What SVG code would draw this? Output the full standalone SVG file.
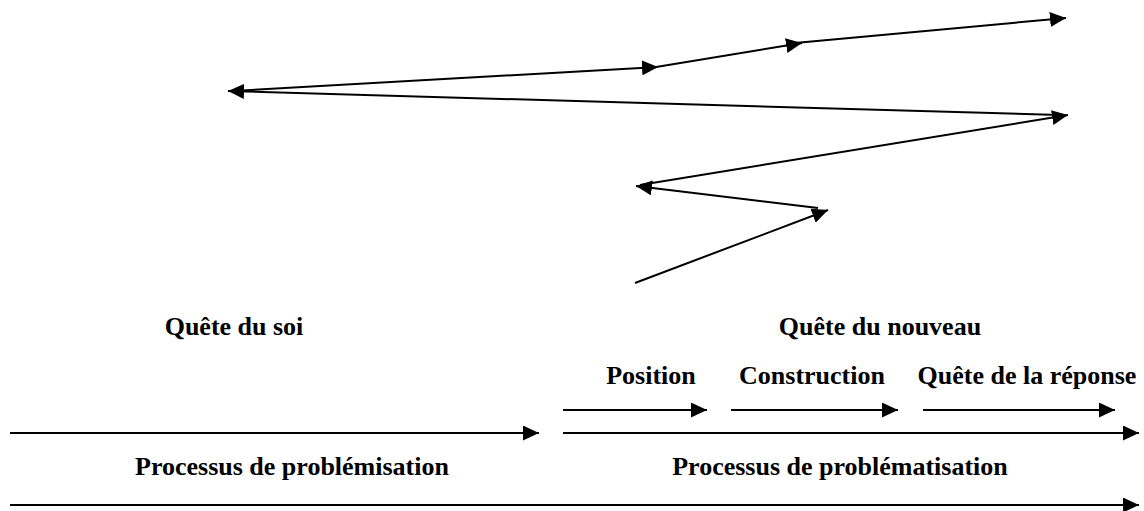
<svg xmlns="http://www.w3.org/2000/svg" width="1144" height="511" viewBox="0 0 1144 511">
<style>
.ln{stroke:#000;stroke-width:2;fill:none}
.ar{marker-end:url(#ah)}
.lb{font-family:"Liberation Serif","Times New Roman",serif;font-weight:bold;font-size:26px;fill:#000;text-anchor:middle}
</style>
<defs>
<marker id="ah" markerUnits="userSpaceOnUse" markerWidth="17" markerHeight="15" refX="16" refY="7.5" orient="auto" viewBox="0 0 17 15">
<path d="M0,0 L16,7.5 L0,15 z" fill="#000"/>
</marker>
</defs>
<rect width="1144" height="511" fill="#fff"/>
<g id="connectors">
<line class="ln ar" x1="635" y1="283" x2="828" y2="210"/>
<line class="ln ar" x1="818" y1="208" x2="636" y2="186"/>
<line class="ln ar" x1="640" y1="185" x2="1068" y2="115"/>
<line class="ln ar" x1="1060" y1="115" x2="228" y2="91"/>
<line class="ln ar" x1="232" y1="91" x2="658" y2="67"/>
<line class="ln ar" x1="650" y1="68" x2="802" y2="43"/>
<line class="ln ar" x1="795" y1="43" x2="1066" y2="18"/>
<line class="ln ar" x1="563" y1="410" x2="707" y2="410"/>
<line class="ln ar" x1="731" y1="410" x2="898" y2="410"/>
<line class="ln ar" x1="923" y1="410" x2="1115" y2="410"/>
<line class="ln ar" x1="10" y1="433" x2="539" y2="433"/>
<line class="ln ar" x1="563" y1="433" x2="1139" y2="433"/>
<line class="ln ar" x1="10" y1="505" x2="1139" y2="505"/>
</g>
<g id="n-quete-soi"><text class="lb" x="234" y="335">Quête du soi</text></g>
<g id="n-quete-nouveau"><text class="lb" x="880" y="335">Quête du nouveau</text></g>
<g id="n-position"><text class="lb" x="651" y="384">Position</text></g>
<g id="n-construction"><text class="lb" x="812" y="384">Construction</text></g>
<g id="n-quete-reponse"><text class="lb" x="1027" y="384">Quête de la réponse</text></g>
<g id="n-problemisation"><text class="lb" x="292" y="475">Processus de problémisation</text></g>
<g id="n-problematisation"><text class="lb" x="840" y="475">Processus de problématisation</text></g>
</svg>
